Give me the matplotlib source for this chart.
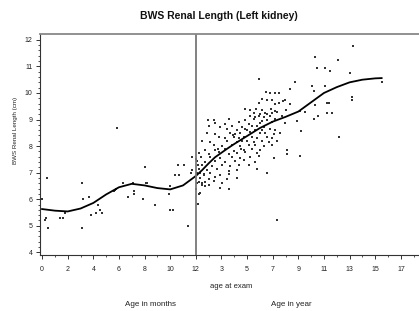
import numpy as np
import matplotlib
matplotlib.use("Agg")
import matplotlib.pyplot as plt
from matplotlib.ticker import FixedLocator, NullFormatter

plt.rcParams['font.family'] = ['Liberation Sans', 'DejaVu Sans']

# ---------------- data ----------------
# infants: age in months, renal length (cm)
infant_months = [0, 0.25, 0.3, 0.4, 0.5, 1.4, 1.6, 1.8, 3.1, 3.2, 3.1, 3.7, 3.8,
                 4.2, 4.4, 4.5, 4.7, 5.6, 5.7, 5.8, 5.85, 6.3, 6.7, 7.1, 7.2, 7.2,
                 7.9, 8.0, 8.1, 8.2, 8.8, 9.9, 10.0, 10.0, 10.2, 10.4, 10.6, 10.7,
                 11.1, 11.4, 11.6, 11.7, 11.7]
infant_len = [6.0, 5.2, 5.3, 6.8, 4.9, 5.3, 5.3, 5.5, 6.6, 6.0, 4.9, 6.1, 5.4,
              5.5, 5.8, 5.6, 5.5, 6.3, 6.35, 6.4, 8.7, 6.6, 6.1, 6.6, 6.2, 6.3,
              6.0, 7.2, 6.6, 6.6, 5.8, 6.2, 6.5, 5.6, 5.6, 6.9, 7.3, 6.9,
              7.3, 5.0, 7.0, 7.1, 7.6]

# children: age in years, renal length (cm)
child_years = [
    6.16, 6.55, 6.94, 7.77, 7.93,
    5.9, 7.2, 7.46, 8.37,
    4.86, 5.2, 5.72, 6.16, 6.89, 7.2, 8.04,
    5.51, 6.03, 6.42, 6.55, 6.94, 7.33,
    5.25, 5.64, 5.9, 6.29, 6.81, 7.72,
    1.94, 2.39, 3.56, 4.86, 5.51, 6.16, 6.55, 7.2,
    2.5, 3.3, 4.34, 5.12, 6.03, 6.94, 7.98,
    1.99, 2.9, 3.82, 4.6, 5.38, 5.77, 6.29,
    3.43, 4.2, 4.86, 5.64, 6.16, 6.81, 7.2,
    1.86, 2.5, 3.69, 4.08, 4.47, 5.25, 6.03, 6.42, 7.07, 7.59,
    2.78, 3.3, 3.95, 4.34, 4.73, 5.38, 5.77, 6.55, 6.94,
    1.47, 2.12, 3.43, 4.2, 4.6, 4.99, 5.51, 6.16, 6.68, 7.33,
    2.39, 3.04, 3.82, 4.47, 5.12, 5.64, 6.29, 6.94,
    1.73, 2.5, 3.3, 3.95, 4.73, 5.38, 6.03, 8.11,
    1.21, 1.99, 2.78, 3.56, 4.2, 4.86, 5.77, 8.11,
    2.12, 2.9, 3.82, 4.47, 5.25, 5.9, 7.07,
    1.08, 1.73, 2.5, 3.3, 4.08, 4.73, 5.64,
    1.47, 2.25, 3.04, 3.69, 4.34, 5.12,
    1.21, 1.86, 2.65, 3.56, 4.2, 5.77,
    1.08, 1.6, 2.12, 2.9, 3.56, 6.55,
    1.34, 1.99, 2.5, 3.43, 4.2,
    1.21, 1.73, 2.39, 3.04,
    1.47, 1.73, 1.99,
    2.9, 3.56,
    1.34, 1.2,
    1.1, 1.15, 1.3, 1.05, 1.25, 1.6, 1.4, 1.05, 1.5, 2.7, 3.9, 4.5, 5.0,
    5.95, 8.32, 6.5, 6.8, 7.15, 7.46, 7.33,
    13.24, 10.33, 12.1, 10.46, 11.1, 11.5, 13.0, 10.07, 11.1, 10.25,
    11.2, 11.4, 13.2, 13.2, 15.5, 10.3, 11.24, 11.63, 10.2, 10.5,
    12.2, 8.9, 9.2, 9.1, 9.5, 9.15, 8.76,
]
child_len = [
    9.76, 9.72, 9.75, 9.71, 9.74,
    9.63, 9.60, 9.64, 9.58,
    9.38, 9.35, 9.40, 9.36, 9.39, 9.34, 9.37,
    9.25, 9.22, 9.26, 9.21, 9.24, 9.27,
    9.13, 9.10, 9.14, 9.09, 9.12, 9.15,
    9.00, 8.97, 9.02, 8.98, 9.01, 8.96, 8.99, 9.03,
    8.88, 8.85, 8.89, 8.84, 8.87, 8.90, 8.86,
    8.75, 8.72, 8.77, 8.71, 8.74, 8.76, 8.73,
    8.63, 8.60, 8.64, 8.59, 8.62, 8.65, 8.61,
    8.50, 8.47, 8.51, 8.46, 8.49, 8.52, 8.48, 8.50, 8.45, 8.49,
    8.34, 8.31, 8.35, 8.30, 8.33, 8.36, 8.32, 8.34, 8.29,
    8.19, 8.16, 8.20, 8.15, 8.18, 8.21, 8.17, 8.19, 8.14, 8.18,
    8.04, 8.01, 8.05, 8.00, 8.03, 8.06, 8.02, 8.04,
    7.87, 7.84, 7.88, 7.83, 7.86, 7.89, 7.85, 7.87,
    7.75, 7.72, 7.76, 7.71, 7.74, 7.77, 7.73, 7.70,
    7.59, 7.56, 7.60, 7.55, 7.58, 7.61, 7.57,
    7.44, 7.41, 7.45, 7.40, 7.43, 7.46, 7.42,
    7.28, 7.25, 7.29, 7.24, 7.27, 7.30,
    7.12, 7.09, 7.13, 7.08, 7.11, 7.14,
    6.97, 6.94, 6.98, 6.93, 6.96, 6.99,
    6.81, 6.78, 6.82, 6.77, 6.80,
    6.66, 6.63, 6.67, 6.62,
    6.53, 6.50, 6.54,
    6.43, 6.40,
    6.23, 5.83,
    6.6, 7.3, 7.0, 6.4, 6.2, 6.9, 7.6, 7.5, 6.6, 7.9, 8.4, 7.9, 8.6,
    10.53, 10.15, 10.03, 10.0, 10.0, 10.0, 5.23,
    11.75, 11.35, 11.25, 10.93, 10.93, 10.83, 10.75, 10.25, 10.25, 10.06,
    9.64, 9.64, 9.85, 9.75, 10.43, 9.56, 9.24, 9.24, 9.03, 9.12,
    8.34, 8.93, 8.55, 9.34, 9.27, 7.64, 10.43,
]

# smoothed curve
curve_months = [0, 1, 2, 3, 4, 5, 6, 7, 8, 9, 10, 11, 12]
curve_m_len = [5.63, 5.57, 5.54, 5.65, 5.86, 6.18, 6.45, 6.58, 6.52, 6.42, 6.37, 6.52, 6.87]
curve_years = [1, 1.5, 2, 2.5, 3, 3.5, 4, 5, 6, 7, 8, 9, 10, 11, 12, 13, 14, 15, 15.5]
curve_y_len = [6.88, 7.1, 7.35, 7.58, 7.75, 7.92, 8.08, 8.38, 8.68, 8.92, 9.1, 9.3,
               9.65, 10.0, 10.22, 10.4, 10.5, 10.55, 10.56]

month_ticks = [0, 2, 4, 6, 8, 10, 12]
year_ticks = [3, 5, 7, 9, 11, 13, 15, 17]

# ---------------- scale: months linear to 12, then years ----------------
def fwd(m):
    m = np.asarray(m, dtype=float)
    return np.where(m <= 12, m, 11 + m / 12.0)

def inv(d):
    d = np.asarray(d, dtype=float)
    return np.where(d <= 12, d, (d - 11) * 12.0)

fig = plt.figure(figsize=(4.19, 3.11), dpi=100)
ax = fig.add_axes([0.0955, 0.18, 0.9045, 0.7107])
ax.set_xscale('function', functions=(fwd, inv))

ax.scatter(infant_months, infant_len, s=3, marker='s', color='#333333', linewidths=0)
ax.scatter(np.array(child_years) * 12, child_len, s=3, marker='s', color='#333333', linewidths=0)

cx = list(curve_months) + [y * 12 for y in curve_years[1:]]
cy = list(curve_m_len[:-1]) + [0.5 * (curve_m_len[-1] + curve_y_len[0])] + list(curve_y_len[1:])
ax.plot(cx, cy, color='black', lw=1.3)

ax.axvline(12, color='#777777', lw=1.3)

ax.set_xlim(-0.16, 221)
ax.set_ylim(3.9, 12.22)

major = list(month_ticks) + [y * 12 for y in year_ticks]
ax.xaxis.set_major_locator(FixedLocator(major))
ax.set_xticklabels([str(t) for t in month_ticks] + [str(t) for t in year_ticks])
minor = [1, 3, 5, 7, 9, 11] + [y * 12 for y in [2, 4, 6, 8, 10, 12, 14, 16, 18]]
ax.xaxis.set_minor_locator(FixedLocator(minor))
ax.xaxis.set_minor_formatter(NullFormatter())

ax.set_yticks(range(4, 13))
ax.yaxis.set_minor_locator(FixedLocator(np.arange(4, 12.01, 0.2)))

ax.tick_params(axis='both', which='major', labelsize=5, length=3, width=0.7,
               color='#333333', labelcolor='#222222')
ax.tick_params(axis='x', which='major', pad=5)
ax.tick_params(axis='y', which='major', pad=2.5)
ax.tick_params(axis='both', which='minor', length=1.6, width=0.6, color='#333333')

ax.spines['right'].set_visible(False)
ax.spines['top'].set_color('#888888')
ax.spines['top'].set_linewidth(1.3)
ax.spines['left'].set_color('#333333')
ax.spines['bottom'].set_color('#333333')
ax.spines['left'].set_linewidth(0.8)
ax.spines['bottom'].set_linewidth(0.8)

fig.text(0.523, 0.948, 'BWS Renal Length (Left kidney)', ha='center', va='center',
         fontsize=7.5, fontweight='bold', color='#111111')
fig.text(0.036, 0.582, 'BWS Renal Length (cm)', rotation=90, ha='center', va='center',
         fontsize=4.5, color='#222222')
fig.text(0.551, 0.080, 'age at exam', ha='center', va='center', fontsize=5.5, color='#222222')
fig.text(0.358, 0.020, 'Age in months', ha='center', va='center', fontsize=5.8, color='#222222')
fig.text(0.695, 0.020, 'Age in year', ha='center', va='center', fontsize=5.8, color='#222222')

fig.savefig('out.png', dpi=100)
